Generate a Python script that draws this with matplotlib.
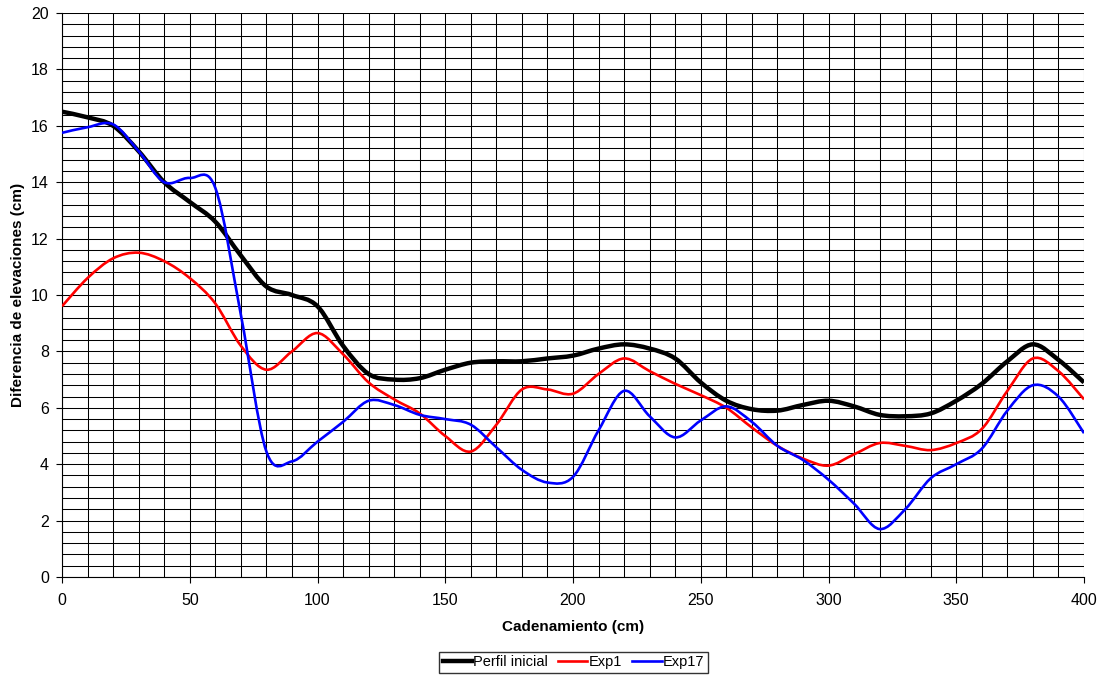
import matplotlib.pyplot as plt
import numpy as np
from matplotlib.path import Path
from matplotlib.patches import PathPatch
from matplotlib.lines import Line2D
from matplotlib.ticker import MultipleLocator

plt.rcParams['font.family'] = ['Liberation Sans', 'DejaVu Sans']

# datos
cadenamiento = np.arange(0, 401, 10)
perfil_inicial = [16.5, 16.3, 16.0, 15.1, 14.0, 13.3, 12.6, 11.4, 10.3, 10.0,
                  9.6, 8.2, 7.2, 7.0, 7.05, 7.35, 7.6, 7.65, 7.65, 7.75,
                  7.85, 8.1, 8.25, 8.1, 7.75, 6.9, 6.25, 5.95, 5.9, 6.1,
                  6.25, 6.05, 5.75, 5.7, 5.8, 6.25, 6.85, 7.65, 8.25, 7.7,
                  6.9]
exp1 = [9.6, 10.6, 11.3, 11.5, 11.2, 10.6, 9.7, 8.2, 7.35, 8.0,
        8.65, 7.9, 6.9, 6.3, 5.8, 5.0, 4.45, 5.4, 6.65, 6.65,
        6.5, 7.2, 7.75, 7.3, 6.85, 6.45, 6.0, 5.3, 4.65, 4.2,
        3.95, 4.35, 4.75, 4.65, 4.5, 4.75, 5.25, 6.6, 7.75, 7.3,
        6.3]
exp17 = [15.75, 15.95, 16.05, 15.1, 14.0, 14.15, 13.8, 9.3, 4.45, 4.1,
         4.8, 5.5, 6.25, 6.1, 5.75, 5.6, 5.4, 4.6, 3.8, 3.35,
         3.55, 5.2, 6.6, 5.7, 4.95, 5.55, 6.05, 5.5, 4.65, 4.15,
         3.45, 2.6, 1.7, 2.4, 3.5, 4.0, 4.55, 5.9, 6.8, 6.4,
         5.1]


def smooth_path(x, y):
    # curva suavizada tipo Excel (Catmull-Rom en segmentos Bezier)
    pts = np.column_stack([x, y]).astype(float)
    ext = np.vstack([pts[0], pts, pts[-1]])
    verts = [pts[0]]
    codes = [Path.MOVETO]
    for i in range(len(pts) - 1):
        p0, p1, p2, p3 = ext[i], ext[i + 1], ext[i + 2], ext[i + 3]
        c1 = p1 + (p2 - p0) / 6
        c2 = p2 - (p3 - p1) / 6
        verts += [c1, c2, p2]
        codes += [Path.CURVE4] * 3
    return Path(verts, codes)


fig = plt.figure(figsize=(11.03, 6.8), dpi=100)
ax = fig.add_axes([62 / 1103, 1 - 577 / 680, 1022 / 1103, 564 / 680])

series = [(perfil_inicial, 'black', 3.2, 'Perfil inicial'),
          (exp1, 'red', 1.9, 'Exp1'),
          (exp17, 'blue', 1.9, 'Exp17')]
handles = []
for vals, col, lw, lab in series:
    ax.add_patch(PathPatch(smooth_path(cadenamiento, vals), facecolor='none',
                           edgecolor=col, lw=lw, zorder=3))
    handles.append(Line2D([], [], color=col, lw=lw, label=lab))

ax.set_xlim(0, 400)
ax.set_ylim(0, 20)
ax.xaxis.set_major_locator(MultipleLocator(50))
ax.xaxis.set_minor_locator(MultipleLocator(10))
ax.yaxis.set_major_locator(MultipleLocator(2))
ax.yaxis.set_minor_locator(MultipleLocator(0.4))
ax.grid(which='both', color='black', lw=0.75)
ax.set_axisbelow(True)
ax.tick_params(which='minor', length=0)
ax.tick_params(which='major', length=4.5, labelsize=11.5, direction='out')
ax.tick_params(axis='x', pad=7)
ax.tick_params(axis='y', pad=5)
for s in ['top', 'right']:
    ax.spines[s].set_visible(False)

ax.set_xlabel('Cadenamiento (cm)', fontsize=11, fontweight='bold', labelpad=9)
ax.set_ylabel('Diferencia de elevaciones (cm)', fontsize=11, fontweight='bold', labelpad=4)

leg = fig.legend(handles=handles, loc='center', bbox_to_anchor=(0.52, 0.026),
                 ncol=3, fontsize=10.5, frameon=True, fancybox=False,
                 handlelength=2.0, handletextpad=0.1, columnspacing=0.7,
                 borderpad=0.25, borderaxespad=0)
leg.get_frame().set_edgecolor('black')
leg.get_frame().set_linewidth(1.0)

fig.savefig('out.png', dpi=100)
